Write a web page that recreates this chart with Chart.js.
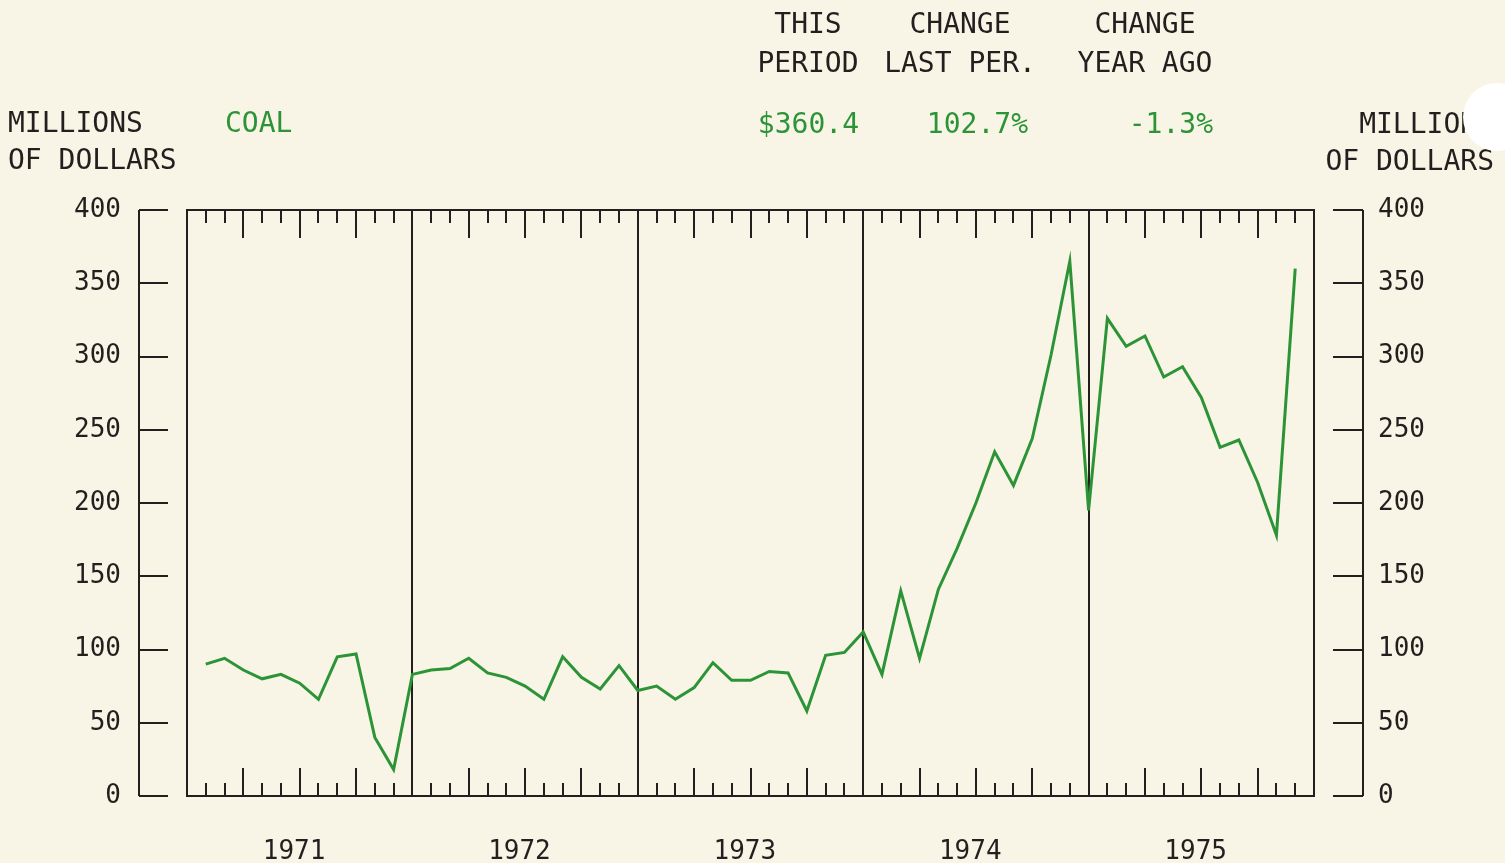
<!DOCTYPE html>
<html>
<head>
<meta charset="utf-8">
<script src="https://cdn.jsdelivr.net/npm/chart.js@4.4.0/dist/chart.umd.min.js"></script>
<style>
html, body { margin: 0; padding: 0; background: #f8f5e6; }
#wrap { width: 1505px; height: 863px; position: relative; }
</style>
</head>
<body>
<div id="wrap"><canvas id="myChart"></canvas></div>
<script>
// monthly values, millions of dollars (Jan 1971 .. Nov 1975)
const years = ['1971', '1972', '1973', '1974', '1975'];
const coal1971 = [90, 94, 86, 80, 83, 77, 66, 95, 97, 40, 18, 83];
const coal1972 = [86, 87, 94, 84, 81, 75, 66, 95, 81, 73, 89, 72];
const coal1973 = [75, 66, 74, 91, 79, 79, 85, 84, 58, 96, 98, 112];
const coal1974 = [83, 140, 94, 141, 169, 200, 235, 212, 244, 301, 365, 195];
const coal1975 = [326, 307, 314, 286, 293, 272, 238, 243, 214, 178, 360];
const coal = [].concat(coal1971, coal1972, coal1973, coal1974, coal1975);

const headCols = [['THIS', 'PERIOD'], ['CHANGE', 'LAST PER.'], ['CHANGE', 'YEAR AGO']];
const headVals = ['$360.4', '102.7%', '-1.3%'];

const ink = '#231f1f';
const green = '#2c9437';
const paper = '#f8f5e6';
const font = '"DejaVu Sans Mono", "Liberation Mono", monospace';

const frame = {
    id: 'frame',
    beforeDraw(chart) {
        const ctx = chart.ctx;
        ctx.save();
        ctx.fillStyle = paper;
        ctx.fillRect(0, 0, chart.width, chart.height);
        ctx.restore();
    },
    beforeDatasetsDraw(chart) {
        const { ctx, chartArea: a, scales: { x, y } } = chart;
        ctx.save();
        ctx.strokeStyle = ink;
        ctx.lineWidth = 2;
        ctx.strokeRect(a.left, a.top, a.right - a.left, a.bottom - a.top);
        ctx.beginPath();
        for (let m = 12; m < 60; m += 12) {
            const px = Math.round(x.getPixelForValue(m));
            ctx.moveTo(px, a.top);
            ctx.lineTo(px, a.bottom);
        }
        for (let m = 1; m < 60; m++) {
            if (m % 12 === 0) continue;
            const px = Math.round(x.getPixelForValue(m));
            const len = m % 3 === 0 ? 28 : 13;
            ctx.moveTo(px, a.top);
            ctx.lineTo(px, a.top + len);
            ctx.moveTo(px, a.bottom);
            ctx.lineTo(px, a.bottom - len);
        }
        // detached value axes on both sides
        const lx = 139, rx = 1363;
        ctx.moveTo(lx, y.getPixelForValue(0));
        ctx.lineTo(lx, y.getPixelForValue(400));
        ctx.moveTo(rx, y.getPixelForValue(0));
        ctx.lineTo(rx, y.getPixelForValue(400));
        y.ticks.forEach(t => {
            const py = Math.round(y.getPixelForValue(t.value));
            ctx.moveTo(lx, py);
            ctx.lineTo(lx + 29, py);
            ctx.moveTo(rx - 30, py);
            ctx.lineTo(rx, py);
        });
        ctx.stroke();
        ctx.restore();
    },
    afterDraw(chart) {
        const ctx = chart.ctx;
        ctx.save();
        ctx.font = '28px ' + font;
        ctx.textBaseline = 'middle';
        ctx.fillStyle = ink;
        ctx.textAlign = 'center';
        const colX = [808, 960, 1145];
        headCols.forEach((c, i) => {
            ctx.fillText(c[0], colX[i], 26);
            ctx.fillText(c[1], colX[i], 65);
        });
        ctx.textAlign = 'left';
        ctx.fillText('MILLIONS', 8, 125);
        ctx.fillText('OF DOLLARS', 8, 162);
        ctx.textAlign = 'right';
        ctx.fillText('MILLIONS', 1494, 126);
        ctx.fillText('OF DOLLARS', 1494, 163);
        ctx.fillStyle = green;
        ctx.textAlign = 'left';
        ctx.fillText('COAL', 225, 125);
        ctx.textAlign = 'right';
        const valX = [859, 1028, 1213];
        headVals.forEach((v, i) => ctx.fillText(v, valX[i], 126));
        // punched hole in the paper
        ctx.fillStyle = '#ffffff';
        ctx.beginPath();
        ctx.arc(1497, 117, 34, 0, Math.PI * 2);
        ctx.fill();
        ctx.restore();
    }
};

// keep the wide label gap from pushing the plot box up
function fitSide(width) {
    return (scale) => {
        scale.width = width;
        scale.paddingTop = 0;
        scale.paddingBottom = 0;
    };
}

const ctx = document.getElementById('myChart').getContext('2d');

const data = {
    datasets: [{
        label: 'coal',
        data: coal.map((v, i) => ({ x: i + 1, y: v })),
        borderColor: green,
        borderWidth: 3,
        pointRadius: 0,
        tension: 0,
        fill: false
    }]
};

const config = {
    type: 'line',
    data: data,
    options: {
        responsive: true,
        maintainAspectRatio: false,
        animation: false,
        layout: { padding: { top: 210, left: 0, right: 0, bottom: 0 } },
        plugins: {
            legend: { display: false },
            tooltip: { enabled: false }
        },
        scales: {
            x: {
                type: 'linear',
                min: 0,
                max: 60,
                afterBuildTicks: (scale) => {
                    scale.ticks = years.map((_, i) => ({ value: i * 12 + 5.7 }));
                },
                afterFit: (scale) => { scale.height = 67; },
                grid: { display: false },
                border: { display: false },
                ticks: {
                    autoSkip: false,
                    maxRotation: 0,
                    padding: 33,
                    color: ink,
                    font: { family: font, size: 26 },
                    callback: (v, i) => years[i]
                }
            },
            y: {
                position: 'left',
                min: 0,
                max: 400,
                afterFit: fitSide(187),
                grid: { display: false, drawTicks: false },
                border: { display: false },
                ticks: {
                    stepSize: 50,
                    padding: 66,
                    color: ink,
                    font: { family: font, size: 26 }
                }
            },
            y2: {
                position: 'right',
                min: 0,
                max: 400,
                afterFit: fitSide(191),
                grid: { display: false, drawTicks: false },
                border: { display: false },
                ticks: {
                    stepSize: 50,
                    padding: 64,
                    color: ink,
                    font: { family: font, size: 26 }
                }
            }
        }
    },
    plugins: [frame]
};

const myChart = new Chart(ctx, config);
</script>
</body>
</html>
